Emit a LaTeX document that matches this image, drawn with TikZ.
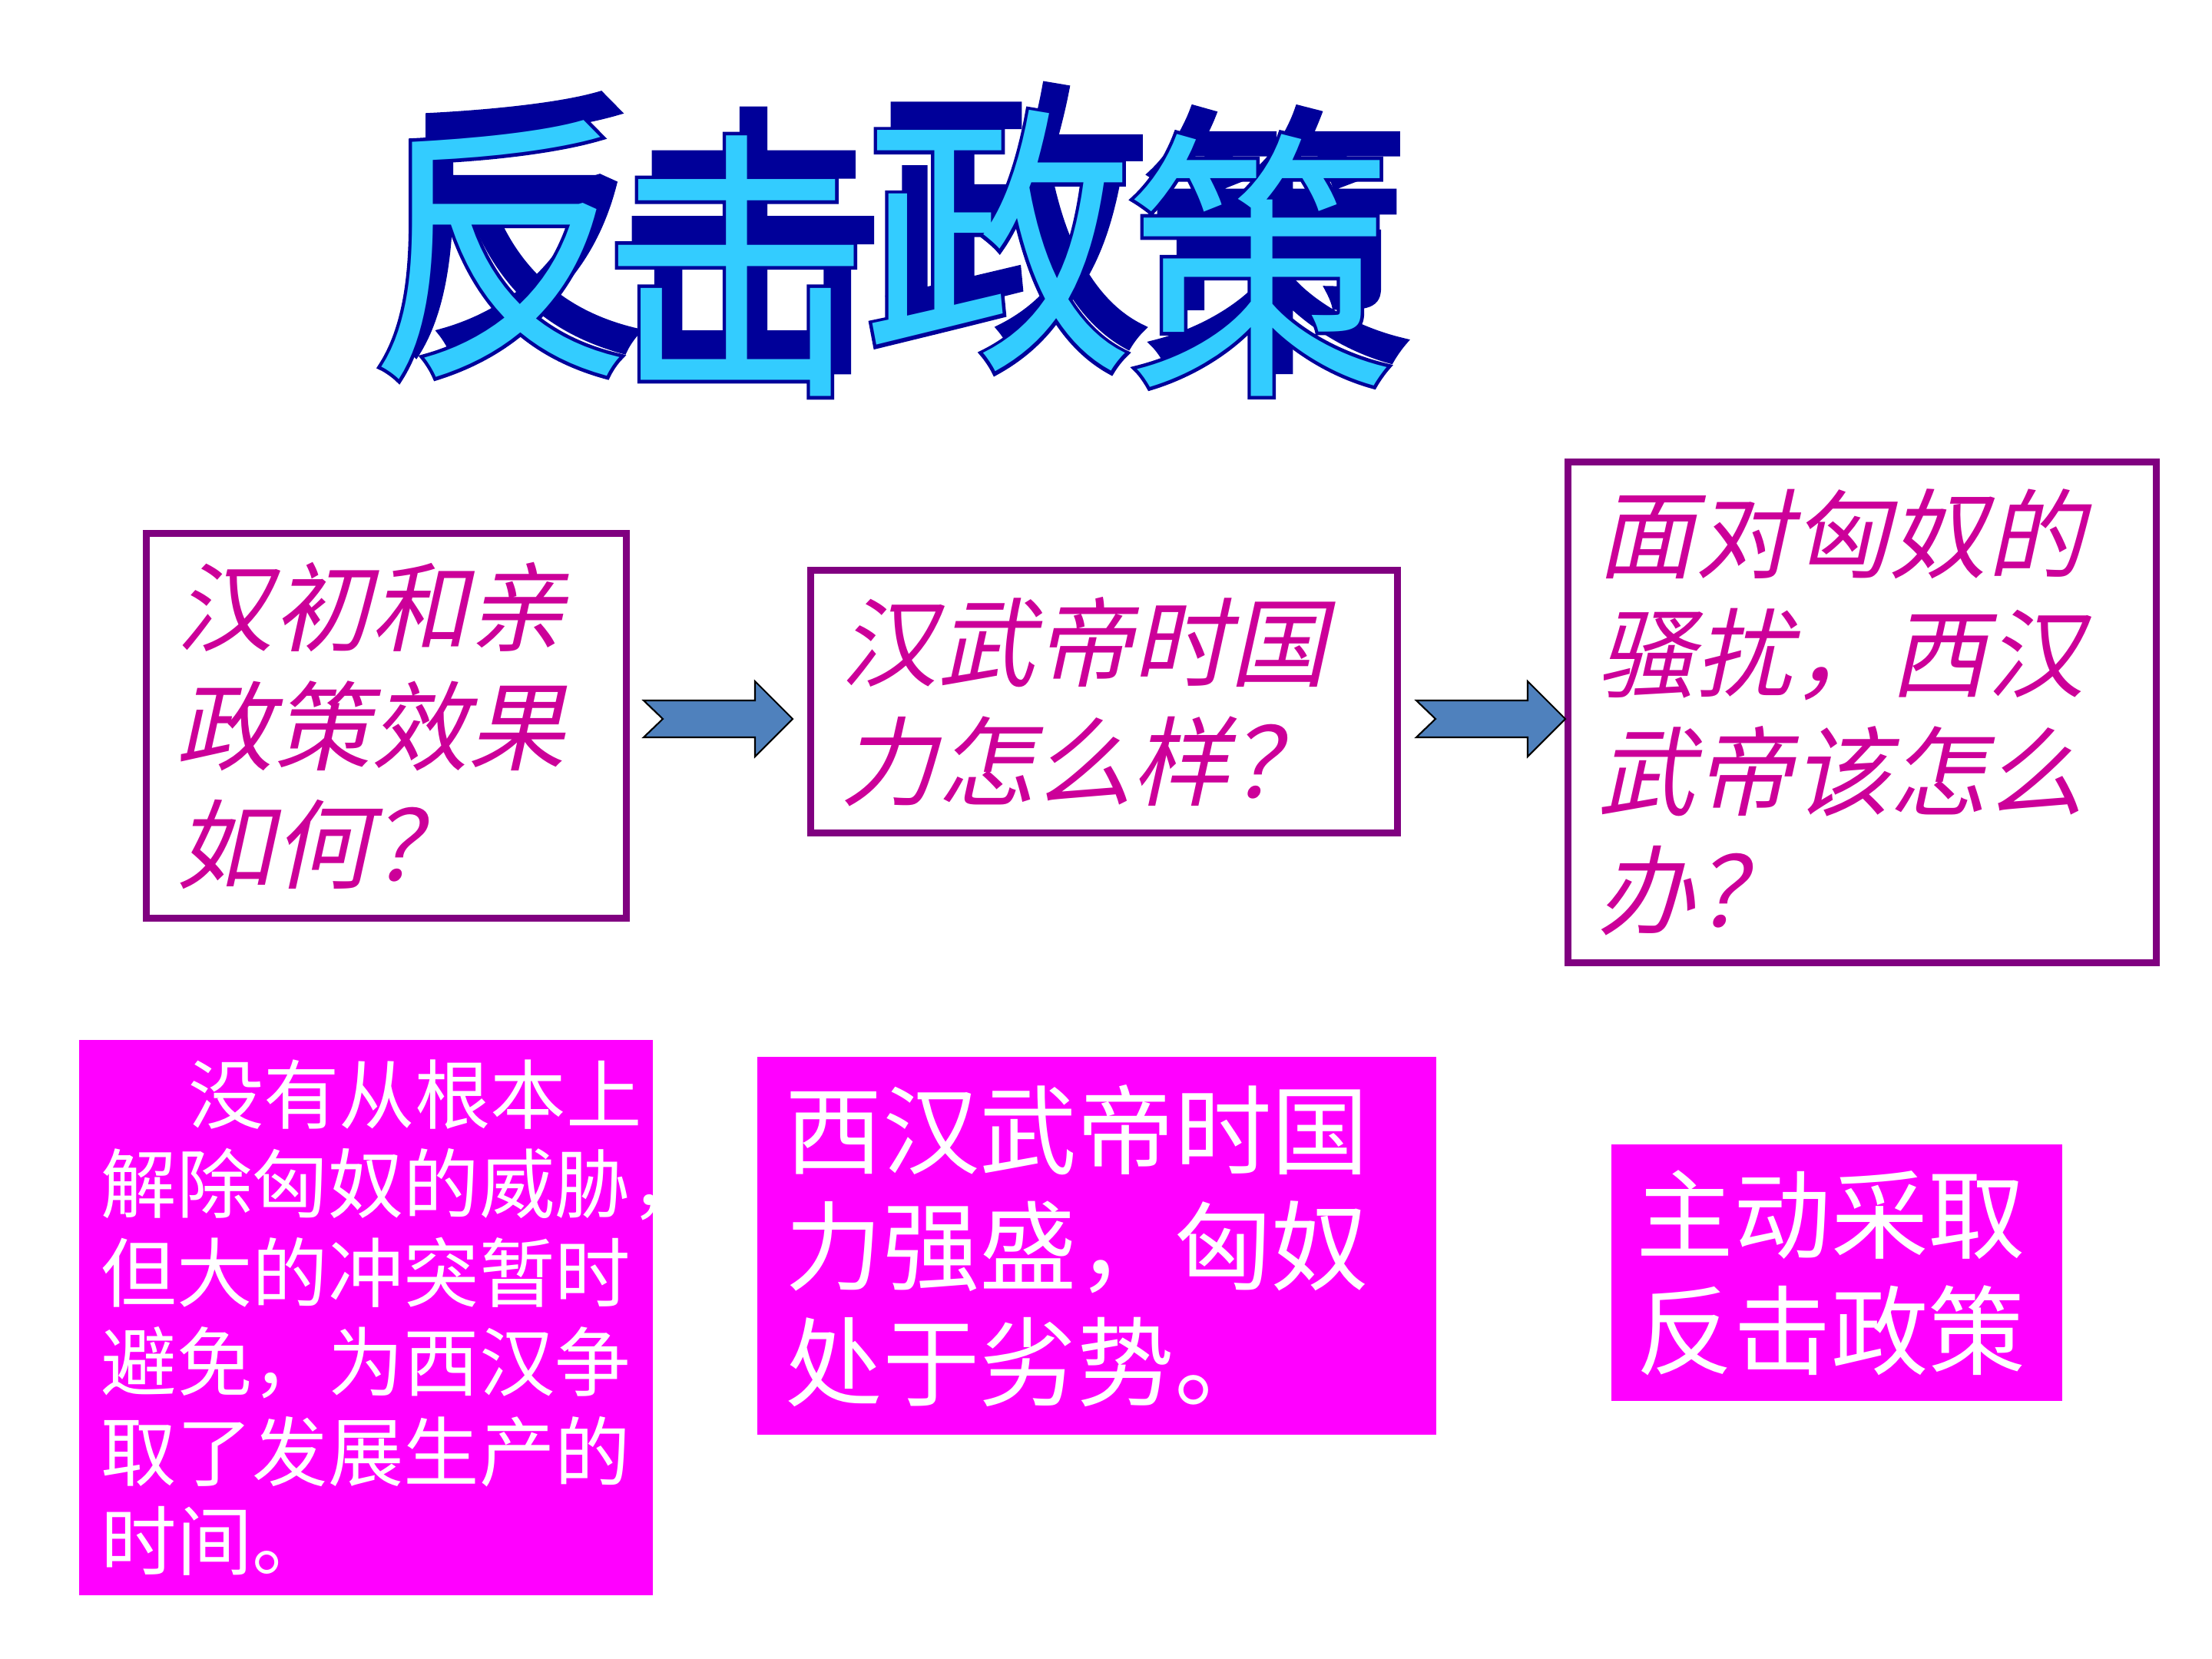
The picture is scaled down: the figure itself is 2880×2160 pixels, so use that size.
\documentclass[tikz,border=0pt]{standalone}
\usepackage{fontspec}
\setmainfont{Noto Sans CJK SC}
\newfontfamily\cjk{Noto Sans CJK SC}
\newfontfamily\cjkrim[FakeBold=2.5]{Noto Sans CJK SC}
\newfontfamily\cjkslant[FakeSlant=0.22]{Noto Sans CJK SC}
\usetikzlibrary{calc}
\definecolor{qpurple}{RGB}{128,0,128}
\definecolor{qpink}{RGB}{204,0,153}
\definecolor{ansmag}{RGB}{255,0,255}
\definecolor{arrblue}{RGB}{79,129,189}
\definecolor{ttllight}{RGB}{51,204,255}
\definecolor{ttldark}{RGB}{0,0,153}
\tikzset{
  qbox/.style={draw=qpurple, line width=2.6pt, fill=white, text=qpink, align=left,
    inner ysep=0pt, inner xsep=0.395cm, font=\cjkslant\fontsize{36}{44}\selectfont},
  ansbox/.style={fill=ansmag, text=white, align=left, inner ysep=0pt},
  blockarr/.style={fill=arrblue, draw=black, line width=0.6pt, line join=miter},
  ttlchar/.style={font=\cjk\fontsize{100}{100}\selectfont, inner sep=0pt, yscale=1.05},
  ttlrim/.style={font=\cjkrim\fontsize{100}{100}\selectfont, inner sep=0pt, yscale=1.05},
}

\begin{document}
\begin{tikzpicture}[x=0.01cm, y=-0.01cm]
  \fill[white] (0,0) rectangle (2880,2160);
  \useasboundingbox (0,0) rectangle (2880,2160);

  % wavy title: shadow, dark rim, light face
  \foreach \ch/\cx/\cy [count=\i] in {反/653/325, 击/958/346, 政/1300/314, 策/1641/345} {
    \node[ttlrim, text=ttldark] at (\cx+22,\cy-33) {\ch};
    \node[ttlrim, text=ttldark] at (\cx,\cy) {\ch};
    \node[ttlchar, text=ttllight] (t\i) at (\cx,\cy) {\ch};
  }

  % question boxes
  \node[qbox, minimum width=6.25cm, minimum height=5.01cm, text width=5.46cm]
    (q1) at (503,945) {汉初和亲\\政策效果\\如何？};
  \node[qbox, minimum width=7.64cm, minimum height=3.42cm, text width=6.85cm]
    (q2) at (1437.5,913.5) {汉武帝时国\\力怎么样？};
  \node[qbox, minimum width=7.66cm, minimum height=6.52cm, text width=6.87cm]
    (q3) at (2424.5,927.5) {面对匈奴的\\骚扰，西汉\\武帝该怎么\\办？};

  % block arrows between the boxes
  \coordinate (a1) at (838,936);
  \coordinate (a2) at (1844,936);
  \foreach \a in {a1,a2}
    \draw[blockarr, shift={(\a)}] (0,-24) -- (145,-24) -- (145,-49) -- (194,0)
      -- (145,49) -- (145,24) -- (0,24) -- (25,0) -- cycle;

  % answer boxes
  \node[ansbox, minimum width=7.47cm, minimum height=7.23cm, text width=6.89cm,
    inner xsep=0.29cm, font=\cjk\fontsize{28}{33}\selectfont] (r1) at (476.5,1715.5)
    {\hspace*{1.15em}没有从根本上\\解除匈奴的威胁，\\但大的冲突暂时\\避免，为西汉争\\取了发展生产的\\时间。};
  \node[ansbox, minimum width=8.84cm, minimum height=4.92cm, text width=8.10cm,
    inner xsep=0.37cm, font=\cjk\fontsize{36}{43}\selectfont] (r2) at (1428,1622)
    {西汉武帝时国\\力强盛，匈奴\\处于劣势。};
  \node[ansbox, minimum width=5.87cm, minimum height=3.34cm, text width=5.21cm,
    inner xsep=0.33cm, font=\cjk\fontsize{36}{43}\selectfont] (r3) at (2391.5,1657)
    {主动采取\\反击政策};
\end{tikzpicture}
\end{document}
